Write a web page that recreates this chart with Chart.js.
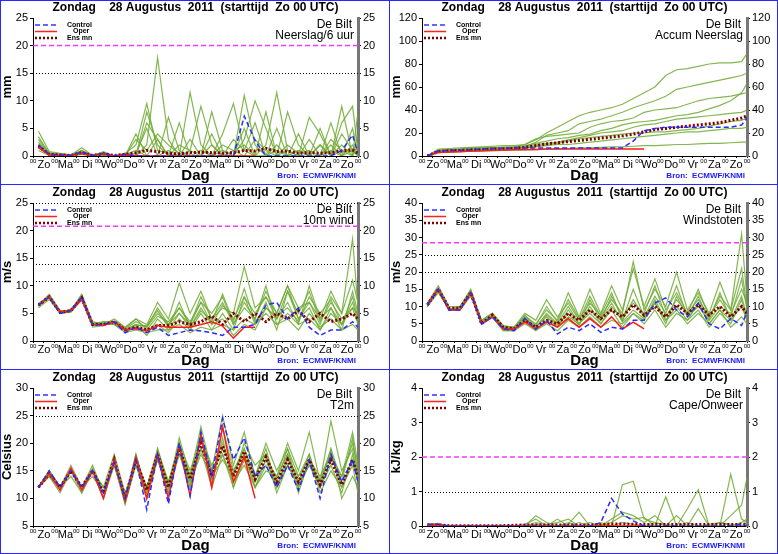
<!DOCTYPE html>
<html>
<head>
<meta charset="utf-8">
<script src="https://cdn.jsdelivr.net/npm/chart.js@4/dist/chart.umd.min.js"></script>
<style>
  body { margin:0; background:#fff; }
  #wrap { position:relative; width:778px; height:554px; }
  .pn { position:absolute; width:389px; height:185px; }
  .ln { position:absolute; background:#2828ff; }
</style>
</head>
<body>
<div id="wrap">
  <div class="pn" style="left:0;top:0"><canvas id="c1"></canvas></div>
  <div class="pn" style="left:389px;top:0"><canvas id="c2"></canvas></div>
  <div class="pn" style="left:0;top:185px"><canvas id="c3"></canvas></div>
  <div class="pn" style="left:389px;top:185px"><canvas id="c4"></canvas></div>
  <div class="pn" style="left:0;top:370px"><canvas id="c5"></canvas></div>
  <div class="pn" style="left:389px;top:370px"><canvas id="c6"></canvas></div>
  <div class="ln" style="left:0;top:0;width:778px;height:1px"></div>
  <div class="ln" style="left:0;top:553px;width:778px;height:1px"></div>
  <div class="ln" style="left:0;top:0;width:1px;height:554px"></div>
  <div class="ln" style="left:777px;top:0;width:1px;height:554px"></div>
  <div class="ln" style="left:389px;top:0;width:1px;height:554px"></div>
  <div class="ln" style="left:0;top:184px;width:778px;height:1px"></div>
  <div class="ln" style="left:0;top:369px;width:778px;height:1px"></div>
</div>
<script>
// tijdstappen in dagen vanaf Zo 00 UTC
const times = [0.25,0.75,1.25,1.75,2.25,2.75,3.25,3.75,4.25,4.75,5.25,5.75,6.25,6.75,7.25,7.75,8.25,8.75,9.25,9.75,10.25,10.75,11.25,11.75,12.25,12.75,13.25,13.75,14.25,14.75,15];
const dayNames = ['Zo','Ma','Di','Wo','Do','Vr','Za','Zo','Ma','Di','Wo','Do','Vr','Za','Zo'];

// Neerslag/6 uur
const precControl = [2,0.3,0.2,0.1,0.7,0.1,0.5,0,0.3,0,0,0,0,0,0,0,0,0,0,7.2,2.8,0,0,0,0,0,0,0,1,3.8,0.5];
const precOper = [1.5,0.2,0.1,0.1,0.5,0.1,0.4,0,0.2,0.1,0,0,0,0,0,0,0,0,0,0,0];
const precMean = [1.8,0.3,0.2,0.1,0.6,0.1,0.4,0.1,0.3,0.6,1,0.8,0.5,0.4,0.6,0.7,0.6,0.5,0.6,1,0.9,1.4,0.8,0.9,0.5,0.6,0.5,0.6,0.9,1.1,0.5];
const precMembers = [
  [3,0.5,0.3,0.1,1,0,0.6,0,0.4,2,9.5,1,0.5,0,3,0,0,1,0,11,2,0,5,0,1,0,2,0,6,9,1],
  [4.5,0.8,0.5,0.2,1.5,0.1,0.8,0,0.5,0,2,17.8,3,0,11.5,2,0,4,9.5,1,0,2,11.5,1,0,3,0,1,0,2,0],
  [2.5,0.6,0.2,0,0.8,0,0.4,0,0.2,0.5,5,0,7,1,0,0,8,1,0,3,10,5,0,1,0,7,4,0,9,0,2],
  [1.5,0.2,0.1,0,0.4,0,0.2,0,0,4,0,3,0,0,1,9,2,0,0,5,0,0,0,8,2,0,0,6,0,5,0],
  [3.5,0.4,0.4,0.1,1,0,0.6,0,0.3,0,8,2,0,6,0,0,0,0,3,1,6,0,2,0,0,0,5,0,2,0,8],
  [2,0.2,0.2,0,0.6,0,0.4,0,0.2,1,0,0,1,0,0,0,2,0,0,0,0,0,1,0,4,0,0,2,0,1,0],
  [1,0.1,0.1,0,0.3,0,0.2,0,0.1,3,1,4,2,0.5,0,1,0,2,1,0,3,1,0,2,0.5,1,0,3,1,0,4],
  [2.2,0.3,0.2,0,0.5,0,0.3,0,0.1,0,6,3,0,2,1,0,4,0,1,2,0,8,0,0,1,0,2,0,4,1,0]
];

// Accum neerslag
const accControl = [0,4.5,4.8,5,5.5,6,6.5,6.7,7,7,7,7,7,7,7,7,7,7,7,13,22,24,25,25,25,25,25,25,25,27,33];
const accOper = [0,3,3.5,3.8,4.3,4.5,5,5.2,5.5,5.6,5.7,6,6,6,6,6,6,6,6,6,6];
const accMean = [0,4,4.5,4.8,5.3,5.5,6,6.2,6.6,7.5,9,10.5,11.5,12.5,13.5,14.5,15.5,16.5,17.5,19,21,23,24,25,26,27,28,29,31,33,35];
const accMembers = [
  [0,5,5.5,6,7,7,7.5,7.5,8,10,14,20,25,30,35,38,40,42,45,50,55,60,70,75,76,78,80,81,81,82,89],
  [0,4,5,5,6,6,7,7,7,8,12,18,20,22,28,30,32,35,38,42,45,48,52,58,60,62,64,66,68,70,72],
  [0,6,6.5,7,7.5,8,8.5,9,9,10,15,17,18,19,20,25,28,30,31,33,38,40,41,42,45,48,50,51,52,54,55],
  [0,3,3.5,4,4.5,5,5.5,6,6,8,10,11,12,14,16,18,20,21,22,25,27,28,30,32,33,34,35,36,37,38,40],
  [0,4,4.5,5,5.5,6,6,6.5,7,7,8,9,10,10,11,12,13,14,15,16,17,18,19,20,21,21,22,23,24,24,25],
  [0,3,3.5,3.8,4,4.2,4.5,4.8,5,5,5.5,6,6,6.5,7,7,7.5,8,8,8.5,9,9,9.5,10,10,10.5,11,11,11.5,12,12],
  [0,5,5.5,6,6.5,7,7,7.5,8,9,11,13,15,16,18,19,22,24,27,29,30,31,33,35,36,38,41,44,48,55,63],
  [0,4,4.2,4.5,5,5.5,6,6,6.5,7,9,10,11,13,15,16,17,18,19,20,20,21,21,22,23,24,26,28,30,31,33]
];

// 10m wind
const windControl = [6.5,8,5,5.5,8,3,3,3.5,1.5,2.5,1.5,2.5,1,1.5,2,1.8,1.5,1,2.5,2.5,3,6.5,7,4,6,2.5,1,2,2,3.5,2.5];
const windOper = [6.5,8,5.2,5.5,7.5,3,2.8,3.5,2,2.2,1.8,2.8,2.5,2.5,2.5,3,3.5,2.7,0.5,2.5,2.5];
const windMean = [6.5,8,5.2,5.5,7.8,3,3,3.5,2,2.5,2,2.8,2.8,3.5,3,3.5,4.5,3,5,3.5,5,3.5,5,4,5.5,3.5,5,3.5,4,5,4];
const windMembers = [
  [6.5,8.5,5.5,5.5,8,3,3.5,3.5,2,3,2.5,5,3,6,3,8,4,7,3,7,4,9,5,10,4,7,3,8,5,18.5,6],
  [6,7.5,5,5.2,7.5,2.8,3,3,1.5,2,1.5,2,2,3,1.5,2.5,2,3,2,4,3,5,3,4,2,5,2.5,4,2,3,2],
  [6.5,8,5.3,5.5,8.5,3.5,3,4,2.5,4,3,7,4,10.5,5,9,4,6,5,13.5,6,8,5,10,6,7,4,9,5,11,7],
  [6.8,8,5,5.8,7.8,3,3.2,3,2,3,1,4,2,5,2.5,6,3,4,1,3,2,6,4,7,3,4,2,6,3,8,4],
  [6.3,7.8,5,5.3,7.5,2.5,2.8,3.5,1.8,2.5,2,3,1.5,4,2,5,2,5,2,8,3,7,2,9,4,6,2,5,3,6,3],
  [6.6,8.2,5.4,5.6,8,3.2,3,3.5,2.2,3.5,2.5,6,3,5,3,7,5,8,3,6,4,10,3,5,3,10,4,6,2,9,5],
  [6.4,8,5.1,5.4,7.9,2.9,3.1,3.6,2.4,4,2,4.5,3.5,6,3.5,7,3,6.5,4,8,5,8,4,9,5,9,3.5,7,4,6,5],
  [6.7,8.1,5.3,5.7,8.2,3.3,3.4,3.2,1.9,2.8,2.8,5.5,2.5,7,2.5,5.5,3.5,8.5,3.5,9.5,3.5,6,4.5,6,3.5,8,5,7.5,3,7,3.5]
];

// Windstoten
const gustControl = [10.5,15,9,9,14,5,7,3.5,3,6.5,3.5,6,2,4,3,5,2.5,4,3.5,6,6,11,12.5,9,7,11,5,3.5,6.5,4.5,8.5];
const gustOper = [10.5,15,9,9,14,5,7,3.5,3.5,5.5,3.5,5.5,4,6.5,4,6.5,4,7,3.5,5.5,3.5];
const gustMean = [10.5,15,9.5,9.5,14,5,7.5,4,3.5,6,4,6,5,8,6,9,6.5,9,7,10.5,7.5,10,7,10.5,8,10.5,7.5,10,7,10,8];
const gustMembers = [
  [11,16,10,10,15,6,8,4,4,7,5,9,6,14,7,15,8,16,9,21,10,18,9,14,8,12,7,13,9,31,12],
  [10,14,9,9,13,5,7,3,3,5,3,5,3,6,4,7,4,6,5,8,6,12,6,9,5,8,5,9,4,7,5],
  [11,15,9,10,14,6,8,4.5,4,8,6,12,7,11,6,13,7,12,8,23,9,15,10,20,9,14,8,17,9,21,10],
  [10,14.5,9,9,14,5,7,3,3,6,4,7,4,9,5,10,5,9,4,8,5,9,4,8,6,9,4,8,5,12,6],
  [10.5,15,9,9,13.5,5,7,4,3,6,3,6,4,7,5,8,5,10,6,12,7,11,6,10,6,11,5,9,6,13,7],
  [10,15,9.5,9.5,14.5,5.5,7.5,4,3.5,7,4,8,5,10,5,9,6,13,7,11,8,16,7,12,8,15,7,12,7,18,9],
  [10.8,15.5,9.2,9.8,14.2,5.8,7.2,4.2,3.8,7.5,4.5,10,5.5,12,6.5,11,7.5,14,6,15,7,13,8,16,7,13,6,10,8,15,11],
  [10.2,14.8,8.8,9.2,13.8,4.8,6.8,3.8,3.2,6.5,3.8,7.5,4.5,8,4.5,12,6,11,5.5,9,6.5,11,5,13,7,10,6,14,6,10,6]
];

// T2m
const tempControl = [12,15,12,15,12,15,11,16.5,10,17,8,18,9,20,10.5,22,14,24.5,17,21,14,16,12,16,11.5,17,10,18,13,17,13];
const tempOper = [12,14.5,11.5,15.5,11.5,15,10,17,9.5,17.5,10,18,10,19.5,10.5,21.5,12,23,13,17.5,10];
const tempMean = [12,14.5,12,15,12,15,11,17,10,17,11.5,18,12,19,13.5,20,14,19.5,14,18.5,13.5,17.5,13,17,13,17,12.5,17,12.5,17,14];
const tempMembers = [
  [12,15,12,15,12,15.5,11,17,10,18,11,18,12,21,14,23,15,25,16,22,14,19,12,18,11,17,12,16,11,18,13],
  [12,14,12,14,11,15,10,16,9,16,12,17,11,18,12,19,12,18,13,16,12,15,14,20,15,22,13,19,10,14,12],
  [12,15,12,16,12,14,11,17,10,17,12,19,13,20,15,21,16,20,14,20,16,18,11,16,12,17,13,18,14,20,15],
  [12,14,11,15,12,15,12,18,11,16,10,17,12,20,13,18,14,17,14,19,13,17,14,18,13,16,12,17,14,22,16],
  [12,15,12,15,12,16,11,16,10,18,11,19,12,19,13,22,12,23,15,18,12,16,12,17,14,18,11,15,12,16,11],
  [12,14,12,15,11,15,11,17,10,17,12,18,13,19,14,21,15,18,12,17,14,20,15,19,12,16,13,24,15,19,13],
  [12,15,12,15,12,15,10,17,9,17,10,18,11,20,12,21,13,21,12,18,12,17,12,16,13,18,12,19,13,21,14],
  [12,14.5,12,15,12,15,12,16,11,16,12,17,13,18,14,19,15,19,15,19,14,18,13,19,14,17,14,18,12,17,13]
];

// Cape/Onweer
const capeControl = [0.05,0.05,0,0,0,0,0,0,0,0,0,0,0,0,0,0,0.1,0.8,0.35,0.15,0,0,0,0,0,0,0,0,0,0.05,0];
const capeOper = [0.02,0.03,0,0,0,0,0,0,0,0,0,0,0,0,0,0,0,0,0,0,0];
const capeMean = [0.03,0.03,0.01,0.01,0.01,0.01,0.01,0.01,0.02,0.03,0.03,0.03,0.03,0.03,0.03,0.03,0.04,0.06,0.06,0.05,0.04,0.04,0.04,0.04,0.04,0.04,0.04,0.04,0.04,0.05,0.05];
const capeMembers = [
  [0.05,0.08,0,0,0,0,0,0,0,0,0.3,0.1,0,0.05,0.4,0,0.1,0,1.2,1.3,0.2,0.1,0,0,0,0,0,0,0.3,0.6,1.4],
  [0.04,0.05,0,0,0,0,0,0,0,0.05,0.2,0,0.2,0,0.1,0,0,0.1,0.3,0.2,0.25,0,0.85,0,0.5,1.05,0,0,1.5,0.2,0.1],
  [0.03,0.04,0,0,0,0,0,0,0,0,0.1,0.05,0.1,0.2,0,0.1,0,0.2,0.4,0.3,0.1,0.3,0,0.3,0,0.5,0,0.1,0,0.1,0.2],
  [0.02,0.03,0,0,0,0,0,0,0,0,0.05,0,0,0.1,0,0,0.05,0,0.1,0.05,0,0.1,0.05,0,0.1,0,0.05,0.1,0.05,0,0.1]
];

// panelinstellingen: [canvas, naam, eenheid, min, max, stap, control, oper, mean, leden, stippellijnen, roze lijn]
const panels = [
  ['c1','Neerslag/6 uur','mm',0,25,5,precControl,precOper,precMean,precMembers,[15],20],
  ['c2','Accum Neerslag','mm',0,120,20,accControl,accOper,accMean,accMembers,[],null],
  ['c3','10m wind','m/s',0,25,5,windControl,windOper,windMean,windMembers,[25,17.2,13.9,10.8],20.8],
  ['c4','Windstoten','m/s',0,40,5,gustControl,gustOper,gustMean,gustMembers,[25,20],28.5],
  ['c5','T2m','Celsius',5,30,5,tempControl,tempOper,tempMean,tempMembers,[25],null],
  ['c6','Cape/Onweer','kJ/kg',0,4,1,capeControl,capeOper,capeMean,capeMembers,[1],2]
];

const FONT = 'Liberation Sans, Arial, sans-serif';
const toXY = arr => arr.map((v,i) => ({x:times[i], y:v}));

// titel, legenda, lijnen en bronvermelding
const decor = {
  id:'decor',
  beforeDatasetsDraw(chart, args, o){
    const ctx = chart.ctx, a = chart.chartArea, y = chart.scales.y;
    ctx.save();
    ctx.lineWidth = 1;
    ctx.strokeStyle = '#000';
    ctx.setLineDash([1,2]);
    o.dots.forEach(v => { const py = Math.round(y.getPixelForValue(v))+0.5; ctx.beginPath(); ctx.moveTo(a.left,py); ctx.lineTo(a.right,py); ctx.stroke(); });
    if (o.pink != null) {
      ctx.strokeStyle = '#ff33ff'; ctx.lineWidth = 1.5; ctx.setLineDash([5,3]);
      const py = y.getPixelForValue(o.pink); ctx.beginPath(); ctx.moveTo(a.left,py); ctx.lineTo(a.right,py); ctx.stroke();
    }
    ctx.restore();
  },
  afterDraw(chart, args, o){
    const ctx = chart.ctx, a = chart.chartArea;
    ctx.save();
    ctx.fillStyle = '#000';
    ctx.font = 'bold 12px ' + FONT;
    ctx.textAlign = 'center'; ctx.textBaseline = 'middle';
    ctx.fillText('Zondag    28 Augustus  2011  (starttijd  Zo 00 UTC)', (a.left+a.right)/2, 8);
    ctx.font = '12px ' + FONT;
    ctx.textAlign = 'right';
    ctx.fillText('De Bilt', a.right-6, a.top+7);
    ctx.fillText(o.name, a.right-4, a.top+18);
    // legenda
    const items = [['Control','#3333ff',[5,3],1.5],['Oper','#ff2020',[],1.5],['Ens mn','#800000',[2,2],2.5]];
    ctx.font = 'bold 7px ' + FONT;
    ctx.textAlign = 'left';
    items.forEach((it,i) => {
      const py = a.top + 7 + i*6.5;
      ctx.strokeStyle = it[1]; ctx.setLineDash(it[2]); ctx.lineWidth = it[3];
      ctx.beginPath(); ctx.moveTo(a.left+2, py); ctx.lineTo(a.left+24, py); ctx.stroke();
      ctx.fillStyle = '#000';
      ctx.fillText(it[0], a.left + (i==1 ? 40 : 34), py);
    });
    ctx.setLineDash([]);
    ctx.fillStyle = '#1a1aff';
    ctx.font = 'bold 8px ' + FONT;
    ctx.textAlign = 'right';
    ctx.fillText('Bron:  ECMWF/KNMI', a.right-2, chart.height-9);
    ctx.restore();
  }
};

function makeChart(p){
  const [id,name,unit,mn,mx,step,ctrl,oper,mean,members,dots,pink] = p;
  const datasets = [
    {data:toXY(ctrl), borderColor:'#2a2aff', borderDash:[5,3], borderWidth:1.5},
    {data:toXY(oper), borderColor:'#ff1a1a', borderWidth:1.5},
    {data:toXY(mean), borderColor:'#800000', borderDash:[2,2], borderWidth:3}
  ];
  members.forEach(m => datasets.push({data:toXY(m), borderColor:'rgba(110,170,50,0.85)', borderWidth:1.2}));
  datasets.forEach(d => { d.pointRadius = 0; d.fill = false; d.tension = 0; });
  new Chart(document.getElementById(id), {
    type:'line',
    data:{datasets},
    options:{
      responsive:false, animation:false, maintainAspectRatio:false,
      layout:{padding:{top:18, left:0, right:0, bottom:0}},
      plugins:{legend:{display:false}, tooltip:{enabled:false}, decor:{name, dots, pink}},
      scales:{
        x:{type:'linear', min:0, max:15,
           ticks:{stepSize:0.5, autoSkip:false, maxRotation:0, padding:0, color:'#000',
             font: c => ({family:FONT, size:(c.tick && c.tick.value%1===0) ? 6 : 11}),
             callback: v => (v%1===0) ? '00' : dayNames[Math.floor(v)]},
           grid:{display:true, drawOnChartArea:false, tickLength:2, color:'#000'},
           border:{color:'#000', width:1},
           title:{display:true, text:'Dag', color:'#000', font:{family:FONT, size:15, weight:'bold'}, padding:{top:0,bottom:0}},
           afterFit: s => { s.height = 29; }},
        y:{min:mn, max:mx,
           ticks:{stepSize:step, color:'#000', font:{family:FONT, size:11}, padding:2},
           grid:{display:true, drawOnChartArea:false, tickLength:3, color:'#000'},
           border:{color:'#000', width:1},
           title:{display:true, text:unit, color:'#000', font:{family:FONT, size:13, weight:'bold'}, padding:0},
           afterFit: s => { s.width = 33; }},
        y2:{position:'right', min:mn, max:mx,
           ticks:{stepSize:step, color:'#000', font:{family:FONT, size:11}, padding:2},
           grid:{display:true, drawOnChartArea:false, tickLength:3, color:'#000'},
           border:{color:'#777', width:3},
           afterFit: s => { s.width = 31; }}
      }
    },
    plugins:[decor]
  });
}

panels.forEach(p => {
  const c = document.getElementById(p[0]);
  c.width = 389; c.height = 185;
  makeChart(p);
});
</script>
</body>
</html>
